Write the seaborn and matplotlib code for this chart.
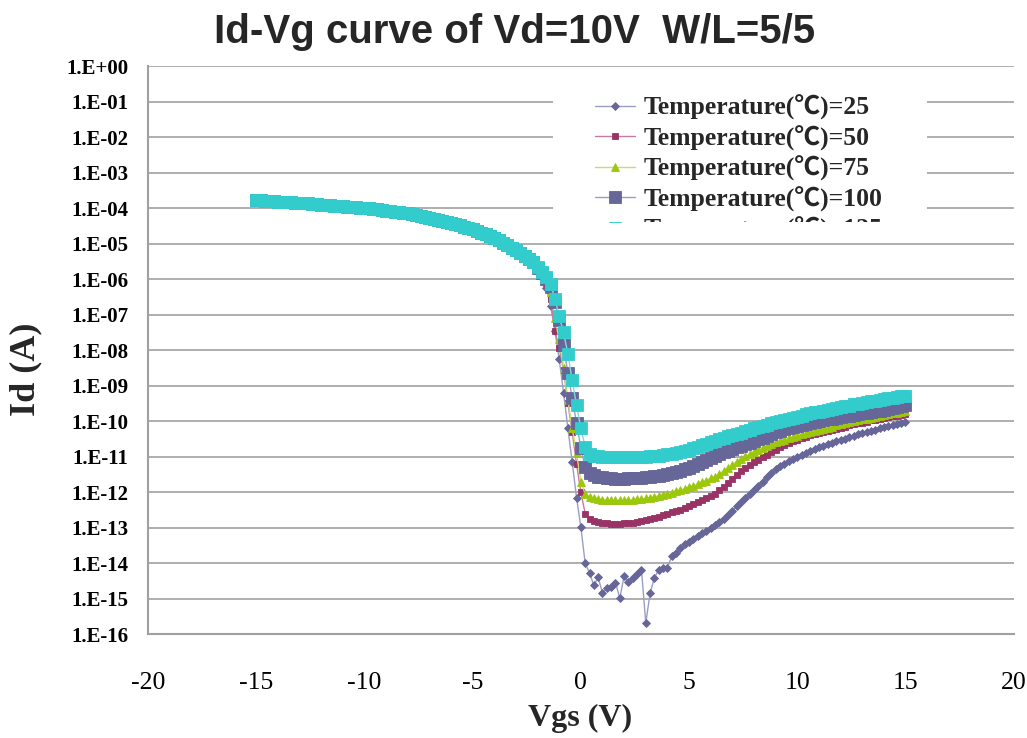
import matplotlib
matplotlib.use("Agg")
import matplotlib.pyplot as plt
import seaborn as sns
import pandas as pd
from matplotlib.patches import Rectangle
from matplotlib.transforms import Bbox, TransformedBbox
from matplotlib.font_manager import FontProperties
from matplotlib.ticker import NullLocator

# ---------------- data ----------------
Vgs = [-15.0, -14.8, -14.6, -14.4, -14.2, -14.0, -13.8, -13.6, -13.4, -13.2,
       -13.0, -12.8, -12.6, -12.4, -12.2, -12.0, -11.8, -11.6, -11.4, -11.2,
       -11.0, -10.8, -10.6, -10.4, -10.2, -10.0, -9.8, -9.6, -9.4, -9.2,
       -9.0, -8.8, -8.6, -8.4, -8.2, -8.0, -7.8, -7.6, -7.4, -7.2,
       -7.0, -6.8, -6.6, -6.4, -6.2, -6.0, -5.8, -5.6, -5.4, -5.2,
       -5.0, -4.8, -4.6, -4.4, -4.2, -4.0, -3.8, -3.6, -3.4, -3.2,
       -3.0, -2.8, -2.6, -2.4, -2.2, -2.0, -1.8, -1.6, -1.4, -1.2,
       -1.0, -0.8, -0.6, -0.4, -0.2, 0.0, 0.2, 0.4, 0.6, 0.8,
       1.0, 1.2, 1.4, 1.6, 1.8, 2.0, 2.2, 2.4, 2.6, 2.8,
       3.0, 3.2, 3.4, 3.6, 3.8, 4.0, 4.2, 4.4, 4.6, 4.8,
       5.0, 5.2, 5.4, 5.6, 5.8, 6.0, 6.2, 6.4, 6.6, 6.8,
       7.0, 7.2, 7.4, 7.6, 7.8, 8.0, 8.2, 8.4, 8.6, 8.8,
       9.0, 9.2, 9.4, 9.6, 9.8, 10.0, 10.2, 10.4, 10.6, 10.8,
       11.0, 11.2, 11.4, 11.6, 11.8, 12.0, 12.2, 12.4, 12.6, 12.8,
       13.0, 13.2, 13.4, 13.6, 13.8, 14.0, 14.2, 14.4, 14.6, 14.8,
       15.0]

# log10(Id) of the common on-state branch, Vgs = -15.0 ... -2.2
log_on_branch = [-3.77, -3.78, -3.79, -3.80, -3.81, -3.82, -3.83, -3.83, -3.84, -3.85,
                 -3.86, -3.87, -3.87, -3.88, -3.89, -3.90, -3.91, -3.92, -3.93, -3.94,
                 -3.95, -3.96, -3.97, -3.98, -3.99, -4.00, -4.01, -4.03, -4.04, -4.05,
                 -4.07, -4.08, -4.10, -4.11, -4.13, -4.15, -4.17, -4.19, -4.22, -4.24,
                 -4.27, -4.30, -4.33, -4.36, -4.39, -4.42, -4.45, -4.49, -4.52, -4.56,
                 -4.60, -4.64, -4.69, -4.74, -4.79, -4.85, -4.91, -4.97, -5.04, -5.11,
                 -5.18, -5.26, -5.34, -5.44, -5.53]

# log10(Id) for Vgs = -2.0 ... 15.0
log_tail_25 = [-5.78, -5.98, -6.25, -6.75, -7.45, -8.25, -9.20, -10.20, -11.15, -12.15,
               -12.98, -14.00, -14.27, -14.62, -14.40, -14.84, -14.69, -14.66, -14.55, -14.98,
               -14.36, -14.54, -14.41, -14.30, -14.18, -15.68, -14.84, -14.41, -14.18, -14.13,
               -14.13, -13.80, -13.71, -13.57, -13.47, -13.40, -13.32, -13.24, -13.16, -13.08,
               -13.00, -12.93, -12.84, -12.75, -12.64, -12.52, -12.40, -12.28, -12.17, -12.06,
               -11.94, -11.82, -11.70, -11.58, -11.46, -11.36, -11.27, -11.20, -11.13, -11.07,
               -11.01, -10.95, -10.90, -10.84, -10.79, -10.74, -10.70, -10.65, -10.61, -10.57,
               -10.53, -10.49, -10.45, -10.41, -10.37, -10.34, -10.31, -10.27, -10.24, -10.20,
               -10.17, -10.14, -10.11, -10.08, -10.05, -10.02]
log_tail_50 = [-5.72, -5.88, -6.10, -6.55, -7.45, -7.95, -8.55, -9.50, -10.30, -11.20,
               -12.00, -12.60, -12.76, -12.82, -12.85, -12.87, -12.88, -12.89, -12.89, -12.89,
               -12.88, -12.87, -12.86, -12.84, -12.82, -12.79, -12.76, -12.73, -12.69, -12.65,
               -12.61, -12.57, -12.53, -12.49, -12.44, -12.39, -12.34, -12.28, -12.23, -12.17,
               -12.11, -12.04, -11.95, -11.85, -11.74, -11.62, -11.51, -11.41, -11.32, -11.24,
               -11.16, -11.08, -11.01, -10.94, -10.87, -10.80, -10.74, -10.68, -10.62, -10.57,
               -10.52, -10.48, -10.44, -10.40, -10.36, -10.33, -10.30, -10.27, -10.24, -10.21,
               -10.18, -10.15, -10.12, -10.09, -10.06, -10.04, -10.01, -9.98, -9.96, -9.93,
               -9.91, -9.88, -9.86, -9.84, -9.82, -9.80]
log_tail_75 = [-5.70, -5.85, -6.05, -6.35, -7.10, -7.70, -8.50, -9.40, -10.20, -10.90,
               -11.70, -12.05, -12.13, -12.17, -12.19, -12.21, -12.22, -12.23, -12.23, -12.23,
               -12.23, -12.22, -12.21, -12.20, -12.19, -12.17, -12.15, -12.13, -12.10, -12.07,
               -12.04, -12.01, -11.97, -11.94, -11.90, -11.86, -11.82, -11.77, -11.72, -11.67,
               -11.61, -11.56, -11.48, -11.40, -11.31, -11.22, -11.14, -11.06, -10.99, -10.93,
               -10.87, -10.81, -10.75, -10.70, -10.65, -10.60, -10.56, -10.52, -10.48, -10.44,
               -10.41, -10.37, -10.34, -10.30, -10.27, -10.24, -10.21, -10.18, -10.15, -10.12,
               -10.09, -10.06, -10.03, -10.00, -9.98, -9.95, -9.93, -9.90, -9.87, -9.85,
               -9.83, -9.80, -9.78, -9.76, -9.74, -9.72]
log_tail_100 = [-5.68, -5.83, -6.00, -6.22, -6.65, -7.15, -7.85, -8.65, -9.35, -10.05,
                -10.75, -11.30, -11.45, -11.52, -11.56, -11.58, -11.60, -11.61, -11.62, -11.62,
                -11.62, -11.61, -11.61, -11.60, -11.59, -11.58, -11.57, -11.55, -11.53, -11.51,
                -11.49, -11.46, -11.43, -11.39, -11.35, -11.31, -11.26, -11.21, -11.16, -11.10,
                -11.04, -10.98, -10.93, -10.88, -10.83, -10.78, -10.73, -10.69, -10.65, -10.61,
                -10.56, -10.51, -10.46, -10.41, -10.36, -10.31, -10.27, -10.23, -10.19, -10.16,
                -10.13, -10.10, -10.07, -10.05, -10.02, -10.00, -9.98, -9.95, -9.93, -9.91,
                -9.89, -9.86, -9.84, -9.82, -9.80, -9.78, -9.76, -9.74, -9.72, -9.71,
                -9.69, -9.66, -9.64, -9.61, -9.58, -9.55]
log_tail_125 = [-5.65, -5.79, -5.95, -6.13, -6.55, -7.05, -7.50, -8.10, -8.85, -9.55,
                -10.20, -10.72, -10.92, -10.97, -10.99, -11.00, -11.01, -11.02, -11.02, -11.02,
                -11.02, -11.02, -11.01, -11.01, -11.00, -11.00, -10.99, -10.98, -10.97, -10.95,
                -10.93, -10.91, -10.89, -10.86, -10.83, -10.80, -10.76, -10.72, -10.68, -10.64,
                -10.60, -10.55, -10.51, -10.47, -10.43, -10.40, -10.36, -10.32, -10.28, -10.24,
                -10.20, -10.17, -10.13, -10.10, -10.06, -10.03, -9.99, -9.96, -9.93, -9.90,
                -9.87, -9.84, -9.81, -9.78, -9.75, -9.73, -9.70, -9.68, -9.65, -9.63,
                -9.61, -9.58, -9.56, -9.53, -9.51, -9.49, -9.47, -9.44, -9.42, -9.40,
                -9.38, -9.36, -9.34, -9.32, -9.30, -9.28]

labels = ["Temperature(\u2103)=25", "Temperature(\u2103)=50", "Temperature(\u2103)=75",
          "Temperature(\u2103)=100", "Temperature(\u2103)=125"]
tails = [log_tail_25, log_tail_50, log_tail_75, log_tail_100, log_tail_125]

y_ticks = [1e-16, 1e-15, 1e-14, 1e-13, 1e-12, 1e-11, 1e-10, 1e-09, 1e-08,
           1e-07, 1e-06, 1e-05, 1e-04, 1e-03, 1e-02, 1e-01, 1e+00]
y_tick_labels = ["1.E-16", "1.E-15", "1.E-14", "1.E-13", "1.E-12", "1.E-11", "1.E-10",
                 "1.E-09", "1.E-08", "1.E-07", "1.E-06", "1.E-05", "1.E-04", "1.E-03",
                 "1.E-02", "1.E-01", "1.E+00"]
x_ticks = [-20, -15, -10, -5, 0, 5, 10, 15, 20]
x_tick_labels = ["-20", "-15", "-10", "-5", "0", "5", "10", "15", "20"]

# ---------------- styles ----------------
styles = [
    dict(line="#9c9cc8", marker="D", ms=3.8, face="#666699", edge="#666699"),
    dict(line="#c77b9f", marker="s", ms=4.6, face="#993366", edge="#993366"),
    dict(line="#c4e06a", marker="^", ms=5.5, face="#99cc00", edge="#9fc21a"),
    dict(line="#9c9cc8", marker="s", ms=8.8, face="#666699", edge="#666699"),
    dict(line="#7fdcdc", marker="s", ms=9.3, face="#33cccc", edge="#33cccc"),
]

W, H = 1027, 738
sns.set_style("white")
plt.rcParams['font.family'] = ['Liberation Serif', 'Noto Sans CJK SC', 'DejaVu Sans']

fig = plt.figure(figsize=(W / 100, H / 100), dpi=100)
ax = fig.add_axes([148 / W, 1 - 634.3 / H, (1013.7 - 148) / W, (634.3 - 66) / H])

for lab, tail, st in zip(labels, tails, styles):
    logs = log_on_branch + tail
    df = pd.DataFrame({"Vgs": Vgs[:len(logs)], "Id": [10.0 ** v for v in logs[:len(Vgs)]]})
    sns.lineplot(data=df, x="Vgs", y="Id", ax=ax, color=st["line"], marker=st["marker"],
                 markersize=st["ms"], markerfacecolor=st["face"], markeredgecolor=st["edge"],
                 markeredgewidth=0.6, linewidth=1.0, label=lab, estimator=None, sort=False)

ax.set_yscale("log")
ax.set_ylim(1e-16, 1e0)
ax.set_xlim(-20, 20)
ax.set_yticks(y_ticks)
ax.set_yticklabels(y_tick_labels)
ax.yaxis.set_minor_locator(NullLocator())
ax.set_xticks(x_ticks)
ax.set_xticklabels(x_tick_labels)
ax.set_xlabel("")
ax.set_ylabel("")

ax.set_axisbelow(True)
ax.yaxis.grid(True, color="#a8a8a8", linewidth=1.3)
ax.xaxis.grid(False)
for s in ["top", "right"]:
    ax.spines[s].set_visible(False)
for s in ["left", "bottom"]:
    ax.spines[s].set_color("#a0a0a0")
    ax.spines[s].set_linewidth(1.5)

ax.tick_params(axis="both", length=0)
ax.tick_params(axis="y", pad=14)
ax.tick_params(axis="x", pad=27)
for t in ax.get_yticklabels():
    t.set_fontfamily("Liberation Serif")
    t.set_fontweight("bold")
    t.set_fontsize(15)
    t.set_color("black")
for t in ax.get_xticklabels():
    t.set_fontfamily("Liberation Serif")
    t.set_fontsize(18.5)
    t.set_color("black")

# white legend area that hides the gridlines
rect = Rectangle((553 / W, 1 - 222 / H), (927 - 553) / W, (222 - 82) / H,
                 transform=fig.transFigure, facecolor="white", edgecolor="none", zorder=4)
ax.add_artist(rect)

legprop = FontProperties(family=['Liberation Serif', 'Noto Sans CJK SC'], weight='bold', size=18.5)
handles, labs = ax.get_legend_handles_labels()
leg = ax.legend(handles, labs, loc="upper left", bbox_to_anchor=(595 / W, 1 - 95 / H),
                bbox_transform=fig.transFigure, frameon=False, prop=legprop,
                handlelength=1.55, handletextpad=0.33, labelspacing=0.20,
                borderpad=0, borderaxespad=0)
leg.set_zorder(6)
clipbox = TransformedBbox(Bbox.from_extents(553 / W, 1 - 222 / H, 927 / W, 1 - 82 / H),
                          fig.transFigure)
for a in leg.findobj():
    a.set_clip_box(clipbox)
    a.set_clip_on(True)

fig.text(515 / W, 1 - 32 / H, "Id-Vg curve of Vd=10V  W/L=5/5", ha="center", va="center",
         fontsize=29, fontweight="bold", family="Liberation Sans")
fig.text(580 / W, 1 - 718 / H, "Vgs (V)", ha="center", va="center",
         fontsize=23, fontweight="bold", family="Liberation Serif")
fig.text(26 / W, 1 - 369 / H, "Id (A)", ha="center", va="center", rotation=90,
         fontsize=26, fontweight="bold", family="Liberation Serif")

fig.savefig("out.png", dpi=100)
